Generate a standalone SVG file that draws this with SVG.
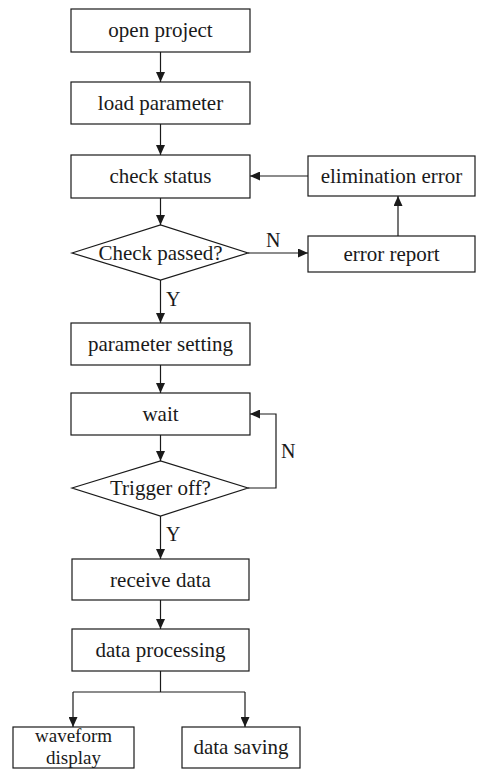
<svg xmlns="http://www.w3.org/2000/svg" width="486" height="771" viewBox="0 0 486 771">
  <style>
    .box { fill: #fff; stroke: #1a1a1a; stroke-width: 1.2; }
    .lbl { font-family: "Liberation Serif", "Times New Roman", serif; font-size: 21px; fill: #1a1a1a; text-anchor: middle; }
    .small { font-size: 19px; }
    .yn { font-family: "Liberation Serif", "Times New Roman", serif; font-size: 20px; fill: #1a1a1a; }
    .wire { fill: none; stroke: #1a1a1a; stroke-width: 1.2; }
  </style>
  <defs>
    <marker id="arrow" markerUnits="userSpaceOnUse" markerWidth="10" markerHeight="9" refX="10" refY="4.5" orient="auto">
      <path d="M0,0 L10,4.5 L0,9 z" fill="#1a1a1a"/>
    </marker>
  </defs>

  <rect width="486" height="771" fill="#fff"/>

  <!-- connectors -->
  <g id="connectors">
    <path class="wire" d="M160.5,52 V82" marker-end="url(#arrow)"/>
    <path class="wire" d="M160.5,124 V155" marker-end="url(#arrow)"/>
    <path class="wire" d="M160.5,198 V225" marker-end="url(#arrow)"/>
    <path class="wire" d="M160.5,280 V323" marker-end="url(#arrow)"/>
    <path class="wire" d="M160.5,365 V393" marker-end="url(#arrow)"/>
    <path class="wire" d="M160.5,435 V461" marker-end="url(#arrow)"/>
    <path class="wire" d="M160.5,516 V559" marker-end="url(#arrow)"/>
    <path class="wire" d="M160.5,600 V629" marker-end="url(#arrow)"/>
    <path class="wire" d="M160.5,671 V692"/>
    <path class="wire" d="M73,692 H245"/>
    <path class="wire" d="M73,692 V727" marker-end="url(#arrow)"/>
    <path class="wire" d="M245,692 V727" marker-end="url(#arrow)"/>
    <path class="wire" d="M248,253 H308" marker-end="url(#arrow)"/>
    <path class="wire" d="M398,236 V196" marker-end="url(#arrow)"/>
    <path class="wire" d="M308,176 H250" marker-end="url(#arrow)"/>
    <path class="wire" d="M248,488 H276 V414 H250" marker-end="url(#arrow)"/>
    <text class="yn" x="266" y="247">N</text>
    <text class="yn" x="166" y="306">Y</text>
    <text class="yn" x="281" y="458">N</text>
    <text class="yn" x="166" y="541">Y</text>
  </g>

  <g id="open-project">
    <rect class="box" x="71" y="9" width="179" height="43"/>
    <text class="lbl" x="160.5" y="37">open project</text>
  </g>
  <g id="load-parameter">
    <rect class="box" x="71" y="82" width="179" height="42"/>
    <text class="lbl" x="160.5" y="110">load parameter</text>
  </g>
  <g id="check-status">
    <rect class="box" x="71" y="155" width="179" height="43"/>
    <text class="lbl" x="160.5" y="183">check status</text>
  </g>
  <g id="check-passed">
    <polygon class="box" points="72,253 160.5,225 248,253 160.5,280"/>
    <text class="lbl" x="160.5" y="260">Check passed?</text>
  </g>
  <g id="error-report">
    <rect class="box" x="308" y="236" width="167" height="36"/>
    <text class="lbl" x="391.5" y="261">error report</text>
  </g>
  <g id="elimination-error">
    <rect class="box" x="308" y="156" width="167" height="40"/>
    <text class="lbl" x="391.5" y="183">elimination error</text>
  </g>
  <g id="parameter-setting">
    <rect class="box" x="71" y="323" width="179" height="42"/>
    <text class="lbl" x="160.5" y="351">parameter setting</text>
  </g>
  <g id="wait">
    <rect class="box" x="71" y="393" width="179" height="42"/>
    <text class="lbl" x="160.5" y="421">wait</text>
  </g>
  <g id="trigger-off">
    <polygon class="box" points="72,488 160.5,461 248,488 160.5,516"/>
    <text class="lbl" x="160.5" y="495">Trigger off?</text>
  </g>
  <g id="receive-data">
    <rect class="box" x="72" y="559" width="177" height="41"/>
    <text class="lbl" x="160.5" y="587">receive data</text>
  </g>
  <g id="data-processing">
    <rect class="box" x="72" y="629" width="177" height="42"/>
    <text class="lbl" x="160.5" y="657">data processing</text>
  </g>
  <g id="waveform-display">
    <rect class="box" x="13" y="727" width="121" height="41"/>
    <text class="lbl small" x="73.5" y="742">waveform</text>
    <text class="lbl small" x="73.5" y="764">display</text>
  </g>
  <g id="data-saving">
    <rect class="box" x="182" y="727" width="118" height="41"/>
    <text class="lbl" x="241" y="754">data saving</text>
  </g>
</svg>
